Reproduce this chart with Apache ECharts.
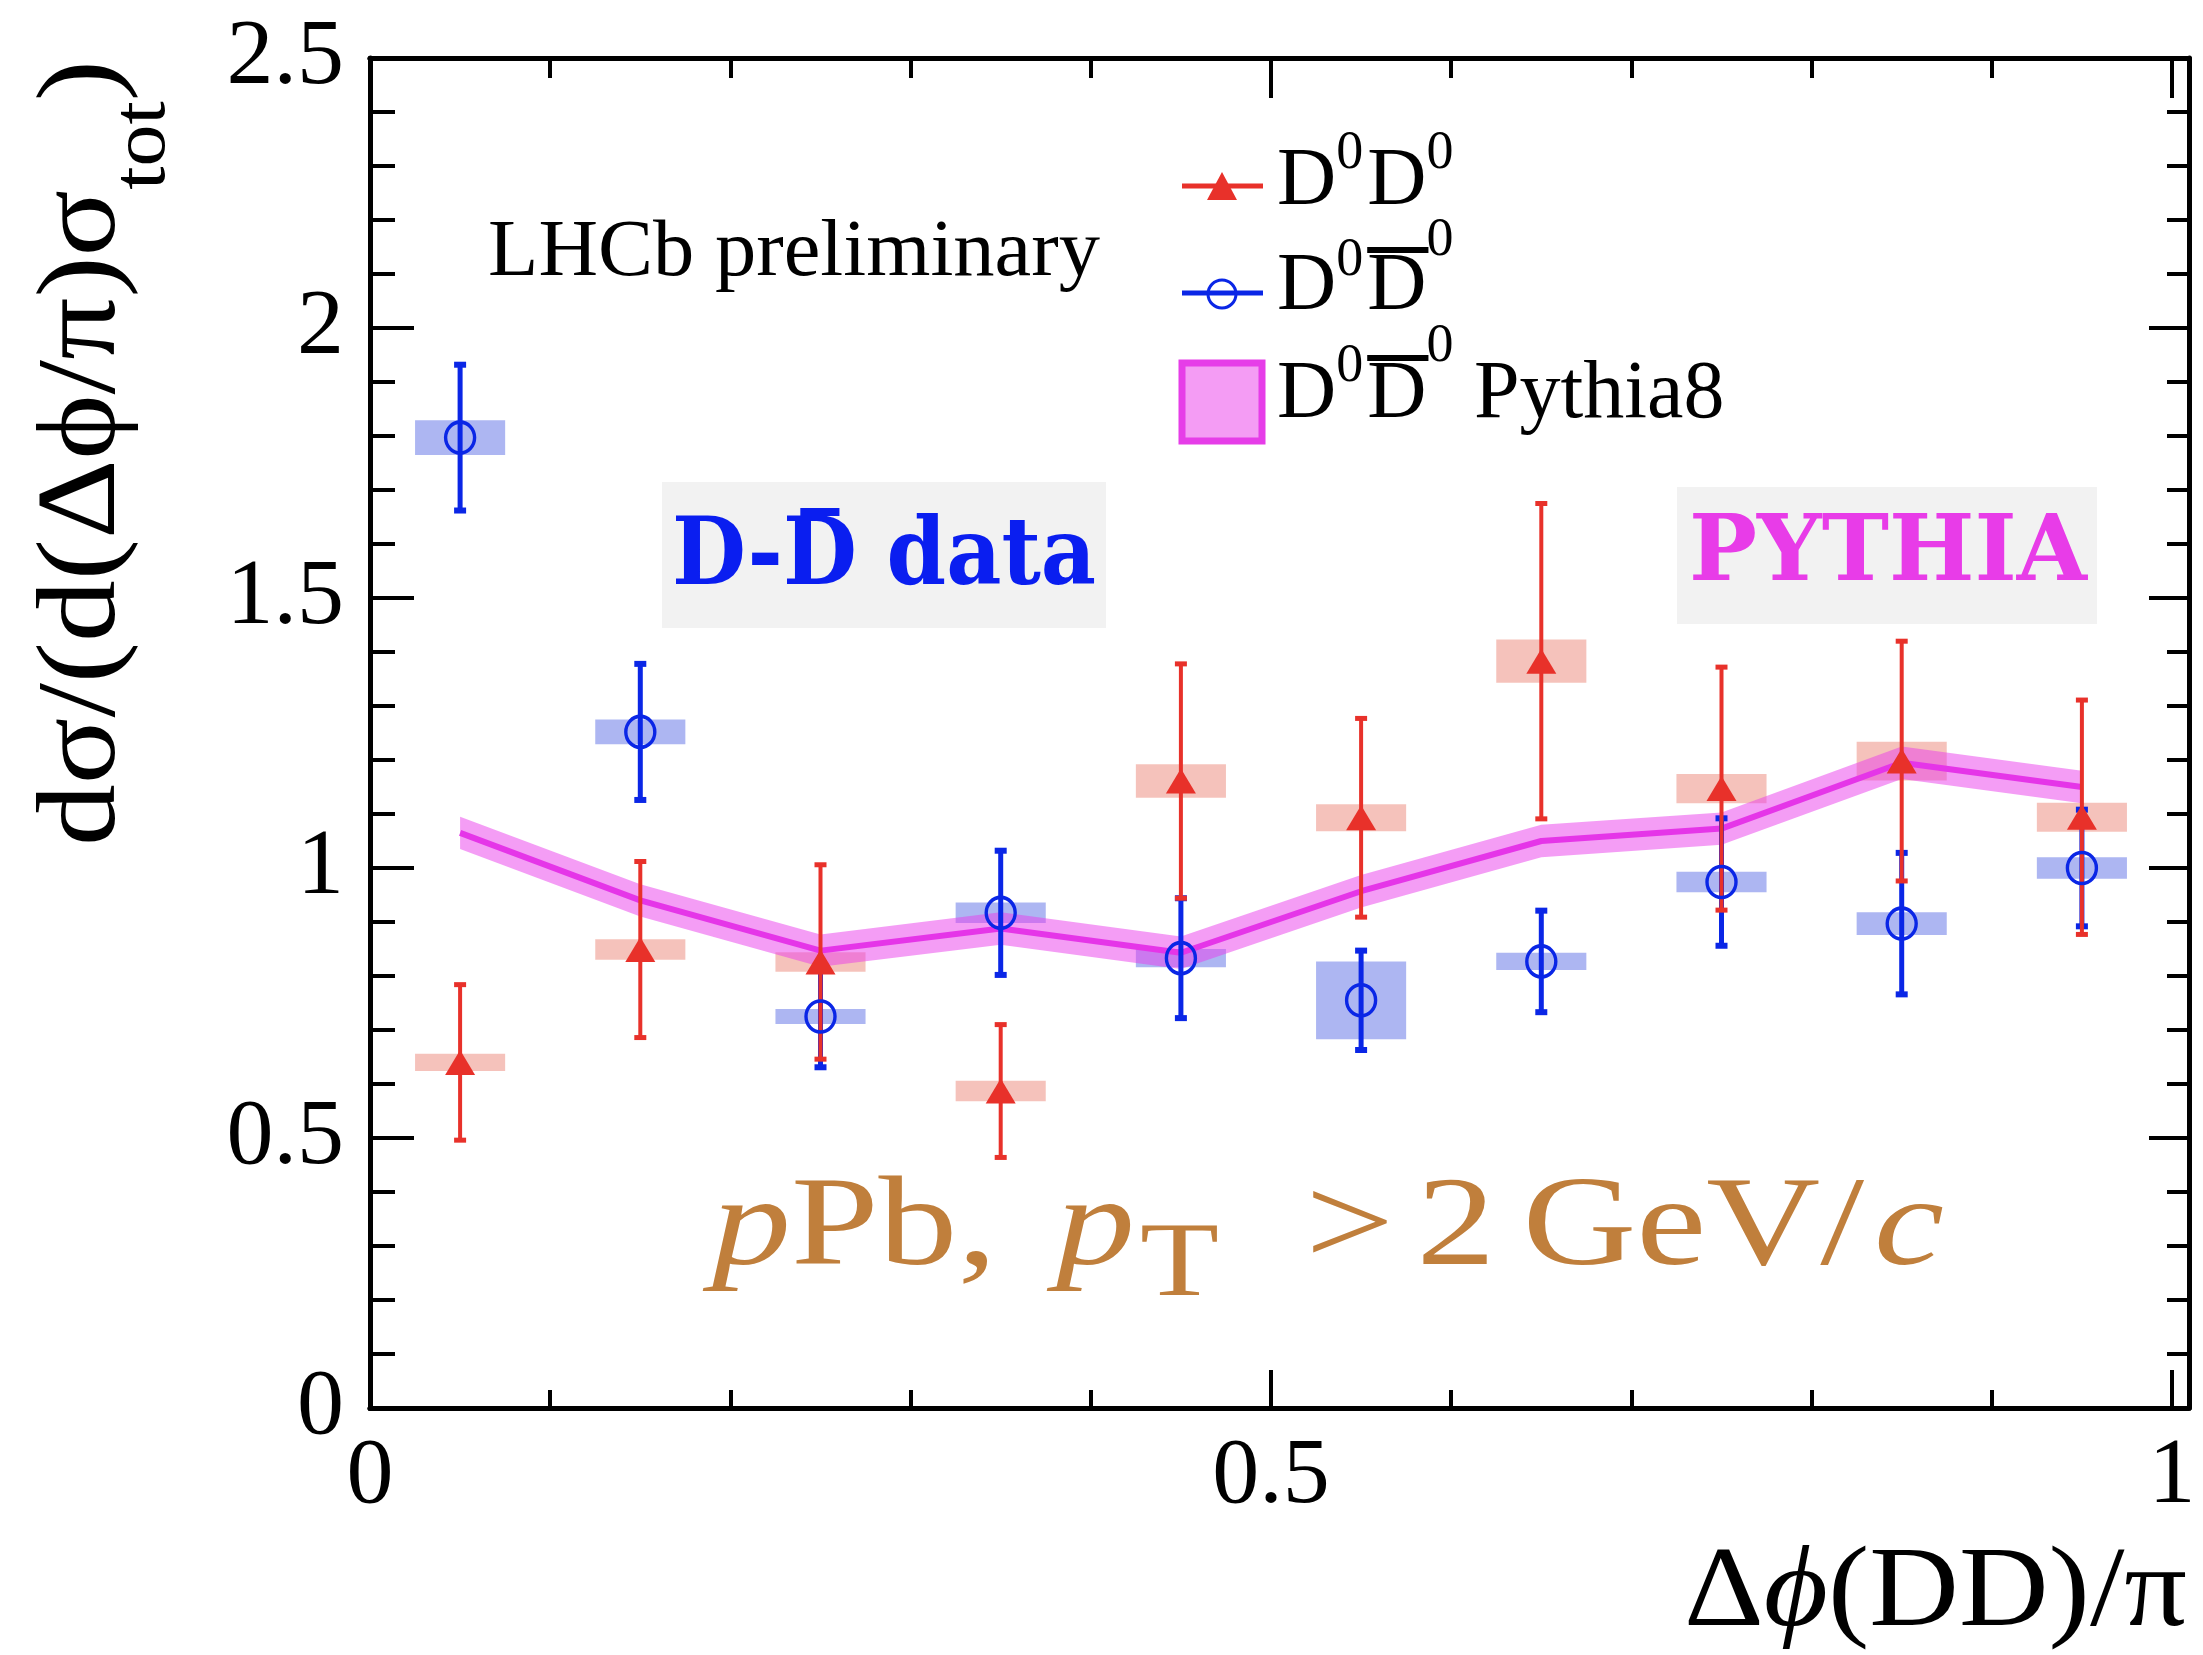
<!DOCTYPE html>
<html><head><meta charset="utf-8">
<script src="https://cdn.jsdelivr.net/npm/echarts@6/dist/echarts.min.js"></script>
<style>html,body{margin:0;padding:0;background:#fff;}#c{width:2203px;height:1655px;}</style>
</head><body><div id="c"></div>
<script>
// ---------- data ----------
const phiCenters   = [0.05, 0.15, 0.25, 0.35, 0.45, 0.55, 0.65, 0.75, 0.85, 0.95];
const d0d0Val      = [0.640, 0.849, 0.826, 0.587, 1.161, 1.093, 1.383, 1.147, 1.198, 1.094];
const d0d0Stat     = [0.144, 0.163, 0.180, 0.123, 0.217, 0.184, 0.292, 0.225, 0.222, 0.217];
const d0d0Syst     = [0.016, 0.019, 0.018, 0.019, 0.031, 0.025, 0.040, 0.027, 0.036, 0.027];
const d0d0barVal   = [1.797, 1.252, 0.725, 0.917, 0.833, 0.755, 0.827, 0.974, 0.897, 1.000];
const d0d0barStat  = [0.135, 0.126, 0.094, 0.115, 0.111, 0.092, 0.094, 0.118, 0.131, 0.108];
const d0d0barSyst  = [0.032, 0.023, 0.014, 0.019, 0.017, 0.072, 0.016, 0.019, 0.021, 0.020];
const pythiaVal    = [1.065, 0.940, 0.847, 0.888, 0.843, 0.957, 1.050, 1.073, 1.195, 1.150];
const pythiaBand   = [0.030, 0.030, 0.030, 0.030, 0.030, 0.030, 0.030, 0.030, 0.030, 0.030];
const xTickLabels  = ['0', '0.5', '1'];
const yTickLabels  = ['0', '0.5', '1', '1.5', '2', '2.5'];

// ---------- styling constants ----------
const RED = '#e8312a', BLUE = '#0a26e6', MAG = '#e535e8', BROWN = '#c07f3c';
const BIN_HALF = 0.025;
const SERIF = 'Liberation Serif', SLAB = 'DejaVu Serif';
const MIDK = {'Liberation Serif':0.3375, 'DejaVu Serif':0.346, 'Liberation Mono':0.2665};

// ---------- text layout helper ----------
const cvs = document.createElement('canvas'); const ctx = cvs.getContext('2d');
function run(frags, base, pos) {
  let x = 0; const kids = [];
  frags.forEach(fr => {
    const f = Object.assign({}, base, fr);
    const st = f.style || 'normal', wt = f.weight || 'normal';
    ctx.font = st + ' ' + wt + ' ' + f.size + 'px "' + f.family + '"';
    const w = ctx.measureText(f.t).width;
    x += (f.dx || 0);
    kids.push({type:'text', x: x, y: (f.dy || 0) - (MIDK[f.family] || 0.34) * f.size,
      style:{text: f.t, fill: f.color, fontSize: f.size, fontFamily: f.family, fontStyle: st,
             fontWeight: wt, textAlign:'left', verticalAlign:'middle', textVerticalAlign:'middle'}});
    if (f.over) kids.push({type:'rect', shape:{x: x + f.over[0], y: f.over[1], width: w + f.over[2], height: f.over[3]}, style:{fill: f.color}});
    x += w + (f.after || 0);
  });
  const g = {type:'group', x: pos.x, y: pos.y, rotation: pos.rotation || 0, children: kids, silent: true};
  if (pos.width) g.scaleX = pos.width / x;
  if (pos.scaleY) g.scaleY = pos.scaleY;
  return g;
}

const chart = echarts.init(document.getElementById('c'), null, {renderer:'canvas', width:2203, height:1655});

function boxRender(color){ return function(params, api){
  const x = api.value(0), v = api.value(1), s = api.value(2);
  const p1 = api.coord([x - BIN_HALF, v + s]), p2 = api.coord([x + BIN_HALF, v - s]);
  return {type:'rect', shape:{x:p1[0], y:p1[1], width:p2[0]-p1[0], height:p2[1]-p1[1]}, style:{fill:color}};
};}
function errRender(color, lw, cap){ return function(params, api){
  const x = api.value(0), v = api.value(1), e = api.value(2);
  const t = api.coord([x, v + e]), b = api.coord([x, v - e]);
  return {type:'group', children:[
    {type:'line', shape:{x1:t[0], y1:t[1], x2:b[0], y2:b[1]}, style:{stroke:color, lineWidth:lw}},
    {type:'line', shape:{x1:t[0]-cap, y1:t[1], x2:t[0]+cap, y2:t[1]}, style:{stroke:color, lineWidth:lw+1}},
    {type:'line', shape:{x1:b[0]-cap, y1:b[1], x2:b[0]+cap, y2:b[1]}, style:{stroke:color, lineWidth:lw+1}}
  ]};
};}
function bandRender(params, api){
  if (params.dataIndex !== 0) return null;
  const up = [], lo = [];
  for (let i = 0; i < phiCenters.length; i++) {
    up.push(api.coord([phiCenters[i], pythiaVal[i] + pythiaBand[i]]));
    lo.push(api.coord([phiCenters[i], pythiaVal[i] - pythiaBand[i]]));
  }
  return {type:'polygon', shape:{points: up.concat(lo.reverse())}, style:{fill:'rgba(233,60,235,0.5)'}};
}

const AX = {color:'#000', width:5};
const labelFont = {fontFamily: SERIF, fontSize: 94, color:'#000'};

const option = {
  backgroundColor:'#fff',
  animation:false,
  grid:[
    {left:370, right:31, top:58, bottom:247, outerBoundsMode:'none', containLabel:false},
    {left:370, right:14, top:58, bottom:247, outerBoundsMode:'none', containLabel:false}
  ],
  xAxis:[
    {gridIndex:0, type:'value', position:'bottom', min:0, max:1, interval:0.5,
     axisLine:{show:true, onZero:false, lineStyle:AX},
     axisTick:{show:true, inside:true, length:38, lineStyle:{color:'#000', width:4}},
     minorTick:{show:true, splitNumber:5, length:18, lineStyle:{color:'#000', width:4}},
     axisLabel:Object.assign({show:true, margin:22, formatter:(v)=> xTickLabels[Math.round(v/0.5)] || ''}, labelFont),
     splitLine:{show:false}, minorSplitLine:{show:false}},
    {gridIndex:0, type:'value', position:'top', min:0, max:1, interval:0.5,
     axisLine:{show:true, onZero:false, lineStyle:AX},
     axisTick:{show:true, inside:true, length:40, lineStyle:{color:'#000', width:4}},
     minorTick:{show:true, splitNumber:5, length:20, lineStyle:{color:'#000', width:4}},
     axisLabel:{show:false}, splitLine:{show:false}},
    {gridIndex:1, type:'value', position:'bottom', min:0, max:1,
     axisLine:{show:true, onZero:false, lineStyle:AX}, axisTick:{show:false}, axisLabel:{show:false}, splitLine:{show:false}},
    {gridIndex:1, type:'value', position:'top', min:0, max:1,
     axisLine:{show:true, onZero:false, lineStyle:AX}, axisTick:{show:false}, axisLabel:{show:false}, splitLine:{show:false}}
  ],
  yAxis:[
    {gridIndex:0, type:'value', position:'left', min:0, max:2.5, interval:0.5,
     axisLine:{show:true, onZero:false, lineStyle:AX},
     axisTick:{show:true, inside:true, length:44, lineStyle:{color:'#000', width:4}},
     minorTick:{show:true, splitNumber:5, length:25, lineStyle:{color:'#000', width:4}},
     axisLabel:Object.assign({show:true, margin:26, formatter:(v)=> yTickLabels[Math.round(v/0.5)] || ''}, labelFont),
     splitLine:{show:false}, minorSplitLine:{show:false}},
    {gridIndex:1, type:'value', position:'right', min:0, max:2.5, interval:0.5,
     axisLine:{show:true, onZero:false, lineStyle:AX},
     axisTick:{show:true, inside:true, length:40, lineStyle:{color:'#000', width:4}},
     minorTick:{show:true, splitNumber:5, length:22, lineStyle:{color:'#000', width:4}},
     axisLabel:{show:false}, splitLine:{show:false}}
  ],
  series:[
    {type:'custom', name:'D0D0bar syst', xAxisIndex:0, yAxisIndex:0, z:2, silent:true,
     data: phiCenters.map((x,i)=>[x, d0d0barVal[i], d0d0barSyst[i]]), renderItem: boxRender('rgba(60,80,225,0.42)')},
    {type:'custom', name:'D0D0 syst', xAxisIndex:0, yAxisIndex:0, z:2, silent:true,
     data: phiCenters.map((x,i)=>[x, d0d0Val[i], d0d0Syst[i]]), renderItem: boxRender('rgba(225,80,60,0.35)')},
    {type:'custom', name:'Pythia8 band', xAxisIndex:0, yAxisIndex:0, z:3, silent:true,
     data: phiCenters.map((x,i)=>[x, pythiaVal[i], pythiaBand[i]]), renderItem: bandRender},
    {type:'line', name:'Pythia8', xAxisIndex:0, yAxisIndex:0, z:4, silent:true, symbol:'none',
     lineStyle:{color:MAG, width:6}, data: phiCenters.map((x,i)=>[x, pythiaVal[i]])},
    {type:'custom', name:'D0D0bar stat', xAxisIndex:0, yAxisIndex:0, z:5, silent:true,
     data: phiCenters.map((x,i)=>[x, d0d0barVal[i], d0d0barStat[i]]), renderItem: errRender(BLUE, 5, 6)},
    {type:'custom', name:'D0D0 stat', xAxisIndex:0, yAxisIndex:0, z:5, silent:true,
     data: phiCenters.map((x,i)=>[x, d0d0Val[i], d0d0Stat[i]]), renderItem: errRender(RED, 4, 6)},
    {type:'scatter', name:'D0D0bar', xAxisIndex:0, yAxisIndex:0, z:6, silent:true, symbol:'circle', symbolSize:[29,31],
     itemStyle:{color:'rgba(0,0,0,0)', borderColor:BLUE, borderWidth:3.5, opacity:1},
     data: phiCenters.map((x,i)=>[x, d0d0barVal[i]])},
    {type:'scatter', name:'D0D0', xAxisIndex:0, yAxisIndex:0, z:6, silent:true, symbol:'triangle', symbolSize:[30,25],
     itemStyle:{color:RED, opacity:1},
     data: phiCenters.map((x,i)=>[x, d0d0Val[i]])}
  ],
  graphic:[]
};

const G = option.graphic;
// Axis titles
G.push(run([{t:'dσ/(d(Δϕ/π)σ'}, {t:'tot', size:76, dy:48}, {t:')'}],
  {family:SERIF, size:112, color:'#000'}, {x:122, y:846, rotation:Math.PI/2, width:786}));
G.push(run([{t:'Δ'}, {t:'ϕ', style:'italic'}, {t:'(DD)/π'}],
  {family:SERIF, size:115, color:'#000'}, {x:1684, y:1634, width:503}));
// LHCb preliminary
G.push(run([{t:'LHCb preliminary'}], {family:SERIF, size:80, color:'#000'}, {x:488, y:281, width:612}));
// Legend
G.push({type:'line', shape:{x1:1182, y1:186, x2:1263, y2:186}, style:{stroke:RED, lineWidth:5}, silent:true});
G.push({type:'polygon', shape:{points:[[1222,172],[1207,200],[1237,200]]}, style:{fill:RED}, silent:true});
G.push(run([{t:'D'}, {t:'0', size:54, dy:-38, after:4}, {t:'D'}, {t:'0', size:54, dy:-38}],
  {family:SERIF, size:82, color:'#000'}, {x:1277, y:210}));
G.push({type:'line', shape:{x1:1182, y1:293, x2:1263, y2:293}, style:{stroke:BLUE, lineWidth:5}, silent:true});
G.push({type:'circle', shape:{cx:1222, cy:294, r:14}, style:{fill:'#fff', stroke:BLUE, lineWidth:3}, silent:true});
G.push({type:'line', shape:{x1:1208, y1:293, x2:1236, y2:293}, style:{stroke:BLUE, lineWidth:5}, silent:true});
G.push(run([{t:'D'}, {t:'0', size:54, dy:-36, after:4}, {t:'D', over:[0,-68,2,6]}, {t:'0', size:54, dy:-56}],
  {family:SERIF, size:82, color:'#000'}, {x:1277, y:315}));
G.push({type:'rect', shape:{x:1182, y:363, width:80, height:78}, style:{fill:'#f49cf4', stroke:'#e63de8', lineWidth:7}, silent:true});
G.push(run([{t:'D'}, {t:'0', size:54, dy:-38, after:4}, {t:'D', over:[0,-68,2,6]}, {t:'0', size:54, dy:-58}, {t:' Pythia8'}],
  {family:SERIF, size:82, color:'#000'}, {x:1277, y:423}));
// D-Dbar data box
G.push({type:'rect', shape:{x:662, y:482, width:444, height:146}, style:{fill:'#f2f2f2'}, silent:true, z:-1});
G.push(run([{t:'D-'}, {t:'D', over:[19,-84,-38,8]}, {t:' data'}],
  {family:SLAB, size:93, color:'#0a1ef0', weight:'bold'}, {x:672, y:592, width:424}));
// PYTHIA box
G.push({type:'rect', shape:{x:1677, y:487, width:420, height:137}, style:{fill:'#f2f2f2'}, silent:true, z:-1});
G.push(run([{t:'PYTHIA'}], {family:SLAB, size:92, color:'#e83ce8', weight:'bold'}, {x:1689, y:588, width:398}));
// pPb annotation
G.push(run([{t:'p', style:'italic'}, {t:'Pb,', dx:0}, {t:'p', style:'italic', dx:48}, {t:'T', size:105, dy:29, dx:4},
            {t:'>', dx:70}, {t:'2', dx:18}, {t:'GeV/', dx:22}, {t:'c', style:'italic', dx:8}],
  {family:SERIF, size:128, color:BROWN}, {x:712, y:1274, width:1232}));

chart.setOption(option);
</script></body></html>
